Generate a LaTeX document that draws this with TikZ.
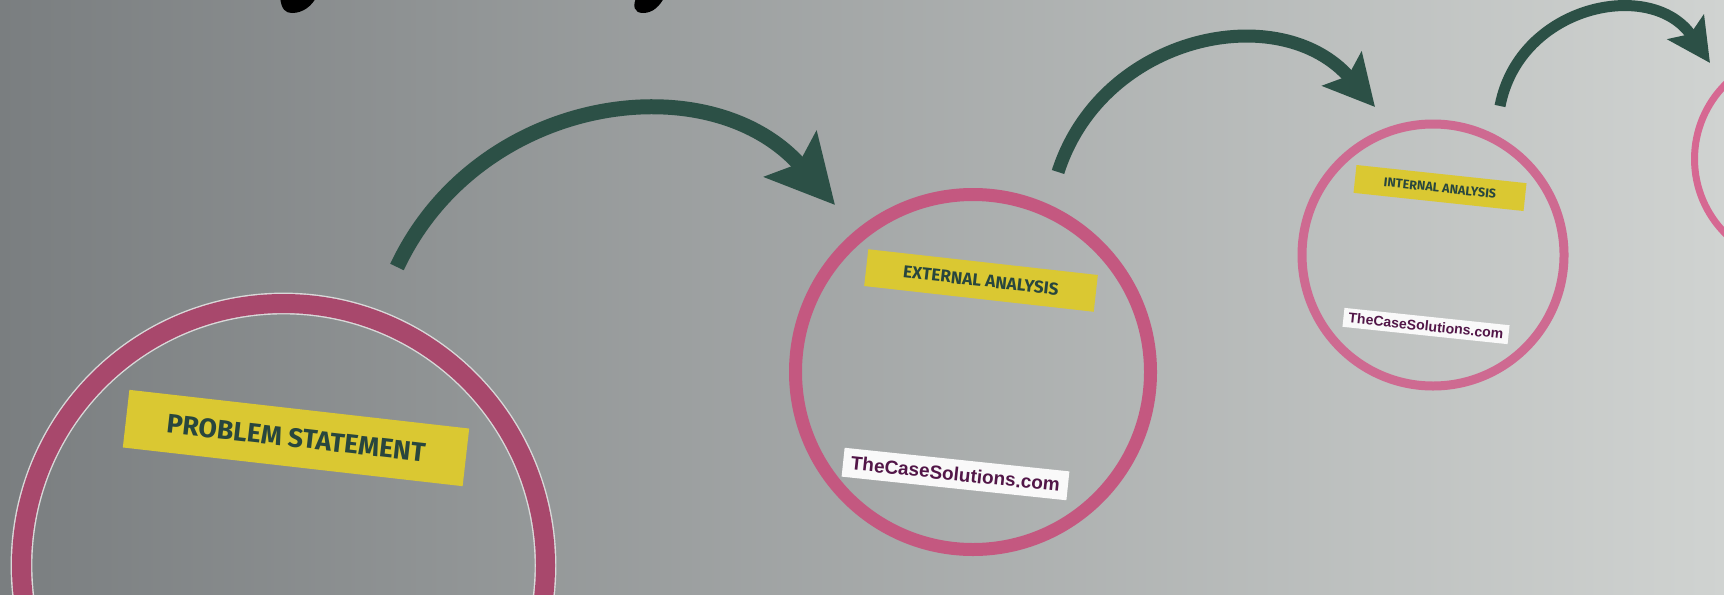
\documentclass[tikz,border=0pt]{standalone}
\usepackage{fontspec}
\usepackage{tikz}
\usetikzlibrary{arrows.meta,shapes,positioning}
\newfontfamily\tagfont{Fira Sans}
\newfontfamily\sitefont{Liberation Sans}
\definecolor{bgleft}{RGB}{122,126,128}
\definecolor{bgmid}{RGB}{170,172,172}
\definecolor{bgright}{RGB}{208,211,209}
\definecolor{ringone}{RGB}{168,72,108}
\definecolor{ringtwo}{RGB}{196,88,128}
\definecolor{ringthree}{RGB}{206,106,145}
\definecolor{ringfour}{RGB}{214,104,146}
\definecolor{tagyellow}{RGB}{218,200,50}
\definecolor{tagtext}{RGB}{40,70,62}
\definecolor{sitetext}{RGB}{82,22,72}
\definecolor{arrowgreen}{RGB}{44,80,70}
\tikzstyle{ring1} = [circle, inner sep=0pt, outer sep=0pt, draw=white!70!gray, line width=0.4pt, double=ringone, double distance=0.19cm, minimum size=5.24cm]
\tikzstyle{ring2} = [circle, inner sep=0pt, outer sep=0pt, draw=ringtwo, line width=0.13cm, minimum size=3.55cm]
\tikzstyle{ring3} = [circle, inner sep=0pt, outer sep=0pt, draw=ringthree, line width=0.09cm, minimum size=2.62cm]
\tikzstyle{ring4} = [circle, inner sep=0pt, outer sep=0pt, draw=ringfour, line width=0.07cm, minimum size=2.11cm]
\tikzstyle{tag}   = [rectangle, fill=tagyellow, text=tagtext, inner sep=0pt, text centered]
\tikzstyle{tag1}  = [tag, minimum width=3.42cm, minimum height=0.58cm, font=\tagfont\bfseries\fontsize{7.6}{9}\selectfont]
\tikzstyle{tag2}  = [tag, minimum width=2.31cm, minimum height=0.37cm, font=\tagfont\bfseries\fontsize{4.9}{6}\selectfont]
\tikzstyle{tag3}  = [tag, minimum width=1.71cm, minimum height=0.28cm, font=\tagfont\bfseries\fontsize{3.6}{4.5}\selectfont]
\tikzstyle{site}  = [rectangle, fill=white!95!gray, text=sitetext, inner sep=0pt, text centered]
\tikzstyle{site2} = [site, minimum width=2.26cm, minimum height=0.29cm, font=\sitefont\bfseries\fontsize{5.4}{6}\selectfont]
\tikzstyle{site3} = [site, minimum width=1.66cm, minimum height=0.19cm, font=\sitefont\bfseries\fontsize{4.0}{5}\selectfont]
\tikzstyle{arrow1} = [line width=0.15cm, draw=arrowgreen, -{Stealth[length=0.67cm, width=0.68cm, inset=0.12cm]}]
\tikzstyle{arrow2} = [line width=0.13cm, draw=arrowgreen, -{Stealth[length=0.50cm, width=0.51cm, inset=0.09cm]}]
\tikzstyle{arrow3} = [line width=0.11cm, draw=arrowgreen, -{Stealth[length=0.43cm, width=0.43cm, inset=0.08cm]}]

\begin{document}
\begin{tikzpicture}[node distance=1cm]
            %Background
            \useasboundingbox (0,0) rectangle (17.24,5.94);
            \shade[left color=bgleft, middle color=bgmid, right color=bgright] (0,0) rectangle (17.24,5.94);
            %Bits of the cut off title
            \fill[black] (2.80,5.98) .. controls (2.81,5.84) and (2.86,5.81) .. (2.92,5.81) .. controls (3.03,5.81) and (3.12,5.88) .. (3.17,5.98) -- cycle;
            \fill[black] (6.37,5.98) .. controls (6.32,5.88) and (6.34,5.81) .. (6.43,5.81) .. controls (6.53,5.81) and (6.60,5.88) .. (6.65,5.98) -- cycle;
            %Create the circles
            \node (circle_1) [ring1] at (2.835,0.285) {};
            \node (circle_2) [ring2, right of = circle_1, xshift=5.895cm, yshift=1.935cm] {};
            \node (circle_3) [ring3, right of = circle_2, xshift=3.60cm,  yshift=1.17cm]  {};
            \node (circle_4) [ring4, right of = circle_3, xshift=2.67cm,  yshift=0.96cm]  {};
            %Yellow tags and site marks
            \node (label_1) [tag1, above of = circle_1, xshift=0.125cm, yshift=0.275cm,  rotate=-6.5] {PROBLEM STATEMENT};
            \node (label_2) [tag2, above of = circle_2, xshift=0.08cm,  yshift=-0.085cm, rotate=-6.4] {EXTERNAL ANALYSIS};
            \node (label_3) [tag3, above of = circle_3, xshift=0.07cm,  yshift=-0.33cm,  rotate=-6.1] {INTERNAL ANALYSIS};
            \node (site_2)  [site2, below of = circle_2, xshift=-0.175cm, yshift=-0.02cm, rotate=-6] {TheCaseSolutions.com};
            \node (site_3)  [site3, below of = circle_3, xshift=-0.07cm,  yshift=0.29cm,  rotate=-6] {TheCaseSolutions.com};
            %Ends of the arrows
            \coordinate[above of = circle_1, xshift=1.135cm, yshift=1.985cm] (tail_1);
            \coordinate[above of = circle_2, xshift=-1.38cm, yshift=0.67cm]  (tip_1);
            \coordinate[above of = circle_2, xshift=0.85cm,  yshift=1.0cm]   (tail_2);
            \coordinate[above of = circle_3, xshift=-0.58cm, yshift=0.48cm]  (tip_2);
            \coordinate[above of = circle_3, xshift=0.67cm,  yshift=0.49cm]  (tail_3);
            \coordinate[above of = circle_4, xshift=-0.90cm, yshift=-0.04cm] (tip_3);
            %Connect the circles
            \draw [arrow1] (tail_1) .. controls +(64.9:1.905) and +(131.2:1.905) .. (tip_1);
            \draw [arrow2] (tail_2) .. controls +(72.2:1.446) and +(130.9:1.446) .. (tip_2);
            \draw [arrow3] (tail_3) .. controls +(79.1:1.033) and +(124.1:1.033) .. (tip_3);
        \end{tikzpicture}
\end{document}
